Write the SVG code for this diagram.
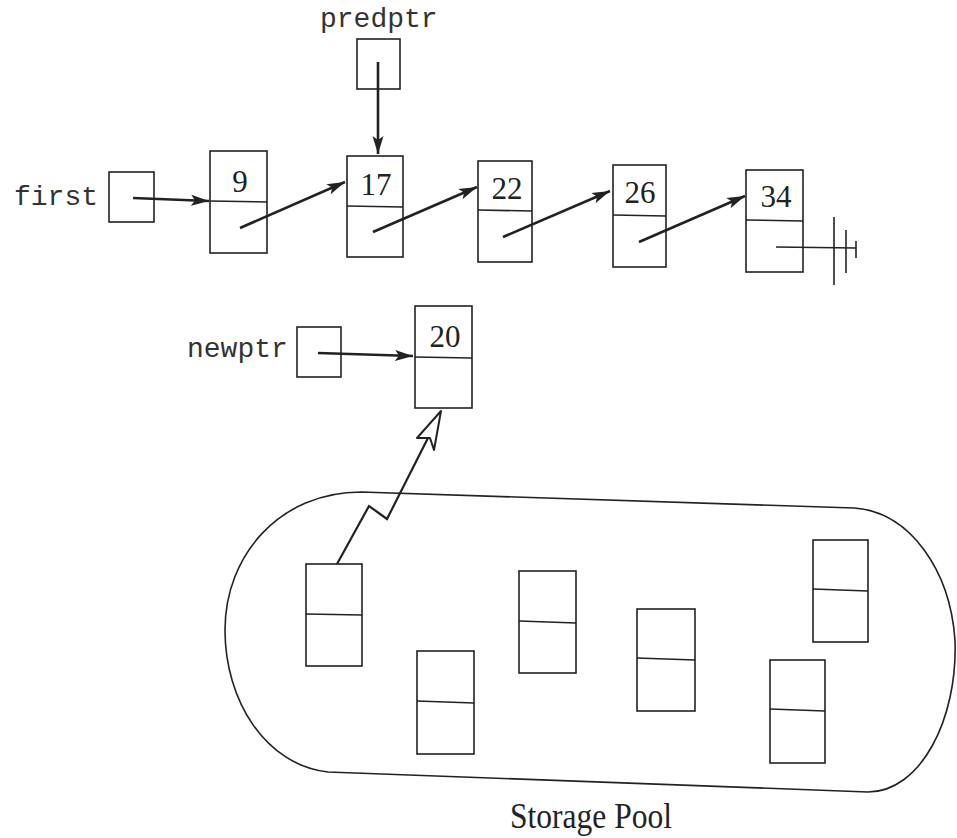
<svg xmlns="http://www.w3.org/2000/svg" width="957" height="838" viewBox="0 0 957 838">
<style>
.box{fill:none;stroke:#222;stroke-width:1.6}
.div{stroke:#222;stroke-width:1.6}
.num{font-family:"Liberation Serif","Times New Roman",serif;font-size:31px;fill:#222;text-anchor:middle}
.lbl{font-family:"Liberation Mono","Courier New",monospace;font-size:28px;fill:#333}
.ptr{fill:none;stroke:#222;stroke-width:2.6}
.thin{fill:none;stroke:#222;stroke-width:1.6}
.cap{font-family:"Liberation Serif","Times New Roman",serif;font-size:35px;fill:#222;text-anchor:middle}
</style>
<defs>
<marker id="ah" markerUnits="userSpaceOnUse" markerWidth="20" markerHeight="12" refX="18" refY="5.5" orient="auto" viewBox="0 0 20 11">
<path d="M0,0 L18,5.5 L0,11 L4,5.5 Z" fill="#222"/>
</marker>
</defs>
<rect width="957" height="838" fill="#fff"/>

<g id="pool">
<path class="thin" d="M361,492 L854,508 C910,512 950,570 955,640 C958,720 920,792 868,792 L328,772 C265,765 225,700 225,630 C225,555 280,492 361,492 Z"/>
<text class="cap" transform="translate(591,828) scale(0.9,1)" x="0" y="0">Storage Pool</text>
</g>

<g id="predptr">
<text class="lbl" x="320" y="27">predptr</text>
<rect class="box" x="357" y="39" width="43" height="50"/>
</g>
<g id="first">
<text class="lbl" x="14" y="205">first</text>
<rect class="box" x="109" y="172" width="45" height="50"/>
</g>
<g id="newptr">
<text class="lbl" x="187" y="357">newptr</text>
<rect class="box" x="297" y="327" width="44" height="50"/>
</g>

<g id="n9">
<rect class="box" x="210" y="151" width="57" height="102"/>
<line class="div" x1="210" y1="201" x2="267" y2="202"/>
<text class="num" x="240" y="192">9</text>
</g>
<g id="n17">
<rect class="box" x="347" y="156" width="56" height="101"/>
<line class="div" x1="347" y1="206" x2="403" y2="207"/>
<text class="num" x="376" y="195">17</text>
</g>
<g id="n22">
<rect class="box" x="478" y="161" width="54" height="101"/>
<line class="div" x1="478" y1="210" x2="532" y2="211"/>
<text class="num" x="507" y="199">22</text>
</g>
<g id="n26">
<rect class="box" x="613" y="165" width="53" height="102"/>
<line class="div" x1="613" y1="215" x2="666" y2="216"/>
<text class="num" x="640" y="203">26</text>
</g>
<g id="n34">
<rect class="box" x="746" y="170" width="57" height="102"/>
<line class="div" x1="746" y1="220" x2="803" y2="221"/>
<text class="num" x="776" y="207">34</text>
</g>
<g id="n20">
<rect class="box" x="415" y="306" width="57" height="102"/>
<line class="div" x1="415" y1="357" x2="472" y2="358"/>
<text class="num" x="445" y="347">20</text>
</g>

<g id="poolnodes">
<g id="pA"><rect class="box" x="306" y="564" width="56" height="102"/><line class="div" x1="306" y1="614" x2="362" y2="615"/></g>
<g id="pB"><rect class="box" x="417" y="651" width="57" height="103"/><line class="div" x1="417" y1="701" x2="474" y2="703"/></g>
<g id="pC"><rect class="box" x="519" y="571" width="57" height="102"/><line class="div" x1="519" y1="621" x2="576" y2="623"/></g>
<g id="pD"><rect class="box" x="637" y="609" width="58" height="102"/><line class="div" x1="637" y1="658" x2="695" y2="660"/></g>
<g id="pE"><rect class="box" x="813" y="540" width="55" height="102"/><line class="div" x1="813" y1="589" x2="868" y2="591"/></g>
<g id="pF"><rect class="box" x="770" y="660" width="55" height="103"/><line class="div" x1="770" y1="709" x2="825" y2="711"/></g>
</g>

<g id="connectors">
<line class="ptr" x1="378" y1="62" x2="378" y2="154" marker-end="url(#ah)"/>
<line class="ptr" x1="133" y1="198" x2="209" y2="201" marker-end="url(#ah)"/>
<line class="ptr" x1="240" y1="228" x2="345" y2="182" marker-end="url(#ah)"/>
<line class="ptr" x1="373" y1="232" x2="477" y2="187" marker-end="url(#ah)"/>
<line class="ptr" x1="503" y1="237" x2="610" y2="191" marker-end="url(#ah)"/>
<line class="ptr" x1="639" y1="242" x2="745" y2="196" marker-end="url(#ah)"/>
<line class="ptr" x1="318" y1="353" x2="413" y2="356" marker-end="url(#ah)"/>
<g id="null">
<line class="thin" x1="776" y1="247" x2="856" y2="248"/>
<line class="thin" x1="834" y1="217" x2="834" y2="285"/>
<line class="thin" x1="846" y1="230" x2="846" y2="273"/>
<line class="thin" x1="856" y1="241" x2="856" y2="258"/>
</g>
<polyline fill="none" stroke="#222" stroke-width="2.2" points="337,564 369,506 387,519 431,432"/>
<path d="M441,411 L434,450 L430,438 L417,438 Z" fill="#fff" stroke="#222" stroke-width="2" stroke-linejoin="round"/>
</g>
</svg>
